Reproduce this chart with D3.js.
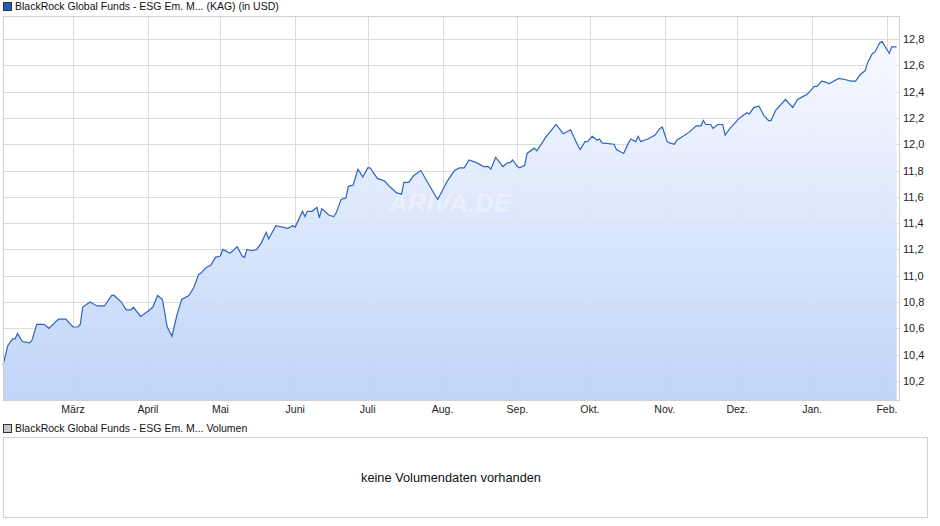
<!DOCTYPE html>
<html><head><meta charset="utf-8">
<script src="https://cdn.jsdelivr.net/npm/d3@7"></script>
<style>body{margin:0;background:#fff}text{font-family:Arial,"Liberation Sans",sans-serif}</style>
</head><body><svg id="c" width="940" height="526"></svg>
<script>
const start = new Date(2024, 1, 1);
const days = [0,2,4,5,6,8,11,12,14,17,19,23,26,29,31,32,33,36,39,42,45,46,49,51,53,54,57,60,62,64,66,68,70,72,74,77,79,81,82,84,86,88,90,91,94,97,99,100,101,103,105,107,109,110,113,118,120,121,124,125,126,128,130,131,132,135,137,138,140,142,143,145,147,149,151,152,155,158,160,163,165,166,168,170,173,178,180,184,187,189,191,193,196,199,201,202,204,207,209,210,211,213,214,216,217,220,221,225,229,232,235,238,239,241,242,244,246,247,248,253,254,257,259,260,262,263,264,267,270,272,273,275,276,278,279,284,287,289,290,291,293,294,296,298,299,301,303,305,308,309,311,313,315,317,318,320,324,327,329,331,333,334,336,337,339,341,342,346,349,351,353,355,357,358,360,361,363,364,366,367,368,370];
const values = [10.32,10.47,10.52,10.52,10.56,10.50,10.49,10.51,10.63,10.63,10.60,10.67,10.67,10.61,10.61,10.63,10.76,10.80,10.77,10.77,10.85,10.85,10.80,10.74,10.74,10.76,10.69,10.73,10.76,10.85,10.82,10.61,10.54,10.70,10.82,10.85,10.91,11.01,11.02,11.06,11.08,11.14,11.15,11.20,11.17,11.22,11.15,11.14,11.20,11.19,11.20,11.25,11.33,11.28,11.38,11.36,11.38,11.37,11.49,11.45,11.49,11.49,11.52,11.44,11.51,11.46,11.45,11.48,11.58,11.59,11.68,11.69,11.81,11.75,11.82,11.82,11.74,11.72,11.68,11.63,11.62,11.71,11.71,11.76,11.80,11.64,11.58,11.72,11.80,11.82,11.82,11.88,11.86,11.83,11.83,11.81,11.90,11.83,11.86,11.86,11.88,11.83,11.82,11.84,11.93,11.97,11.95,12.06,12.15,12.08,12.11,11.99,11.96,12.02,12.02,12.06,12.03,12.04,12.01,12.00,11.96,11.93,12.01,12.04,12.02,12.06,12.02,12.04,12.07,12.12,12.13,12.02,12.01,12.00,12.03,12.09,12.14,12.14,12.18,12.15,12.15,12.12,12.15,12.15,12.07,12.12,12.16,12.20,12.24,12.23,12.28,12.29,12.22,12.18,12.18,12.26,12.34,12.28,12.34,12.36,12.38,12.40,12.44,12.44,12.48,12.47,12.46,12.50,12.49,12.48,12.48,12.53,12.56,12.62,12.69,12.70,12.77,12.78,12.72,12.69,12.74,12.74];
const yTicks = [10.2,10.4,10.6,10.8,11.0,11.2,11.4,11.6,11.8,12.0,12.2,12.4,12.6,12.8];
const monthNames = ["März","April","Mai","Juni","Juli","Aug.","Sep.","Okt.","Nov.","Dez.","Jan.","Feb."];
const monthDates = d3.range(12).map(i => new Date(2024, 2 + i, 1));

const data = days.map((d, i) => ({date: d3.timeDay.offset(start, d), v: values[i]}));
const svg = d3.select("#c");
const L = 3, R = 899, T = 16, B = 400;
const x = d3.scaleTime().domain([start, new Date(2025, 1, 6)]).range([L, R]);
const y = d3.scaleLinear().domain([10.055, 12.975]).range([B, T]);
const fmt = v => d3.format(".1f")(v).replace(".", ",");

const grad = svg.append("defs").append("linearGradient").attr("id", "g")
  .attr("x1", 0).attr("y1", 0).attr("x2", 0).attr("y2", 1);
grad.append("stop").attr("offset", 0).attr("stop-color", "#f7f9ff");
grad.append("stop").attr("offset", 1).attr("stop-color", "#b9d0f7");

// grid
svg.append("g").selectAll("line").data(yTicks).join("line")
  .attr("x1", L).attr("x2", R).attr("y1", d => Math.round(y(d)) + .5).attr("y2", d => Math.round(y(d)) + .5)
  .attr("stroke", "#dcdcdc");
svg.append("g").selectAll("line").data(monthDates).join("line")
  .attr("y1", T).attr("y2", B).attr("x1", d => Math.round(x(d)) + .5).attr("x2", d => Math.round(x(d)) + .5)
  .attr("stroke", "#dcdcdc");

// area + line
svg.append("path").datum(data).attr("fill", "url(#g)").attr("opacity", .9)
  .attr("d", d3.area().x(d => x(d.date)).y0(B).y1(d => y(d.v)));
svg.append("text").attr("x", 450).attr("y", 212).attr("text-anchor", "middle")
  .attr("font-size", 26).attr("font-style", "italic").attr("font-weight", "bold")
  .attr("fill", "#fff").attr("opacity", .35).text("ARIVA.DE");
svg.append("path").datum(data).attr("fill", "none").attr("stroke", "#2d63c4").attr("stroke-width", 1.2)
  .attr("d", d3.line().x(d => x(d.date)).y(d => y(d.v)));

svg.append("rect").attr("x", L + .5).attr("y", T + .5).attr("width", R - L).attr("height", B - T)
  .attr("fill", "none").attr("stroke", "#d0d0d0");

// axes labels
svg.append("g").selectAll("text").data(yTicks).join("text")
  .attr("x", 903).attr("y", d => y(d) + 4).attr("font-size", 11).attr("fill", "#222").text(fmt);
svg.append("g").selectAll("text").data(monthDates).join("text")
  .attr("x", d => x(d)).attr("y", 413).attr("text-anchor", "middle").attr("font-size", 10.5)
  .attr("fill", "#222").text((d, i) => monthNames[i]);

// legends
svg.append("rect").attr("x", 3.5).attr("y", 2.5).attr("width", 8).attr("height", 8).attr("fill", "#1f5bc4").attr("stroke", "#333");
svg.append("text").attr("x", 15).attr("y", 10).attr("font-size", 10.5).attr("fill", "#111")
  .text("BlackRock Global Funds - ESG Em. M... (KAG) (in USD)");
svg.append("rect").attr("x", 3.5).attr("y", 424.5).attr("width", 8).attr("height", 8).attr("fill", "#c8c8c8").attr("stroke", "#333");
svg.append("text").attr("x", 15).attr("y", 432).attr("font-size", 10.5).attr("fill", "#111")
  .text("BlackRock Global Funds - ESG Em. M... Volumen");

// volume panel
svg.append("rect").attr("x", L + .5).attr("y", 437.5).attr("width", R - L + 28).attr("height", 80)
  .attr("fill", "#fff").attr("stroke", "#d0d0d0");
svg.append("text").attr("x", 451).attr("y", 482).attr("text-anchor", "middle").attr("font-size", 12.8)
  .attr("fill", "#111").text("keine Volumendaten vorhanden");
</script></body></html>
